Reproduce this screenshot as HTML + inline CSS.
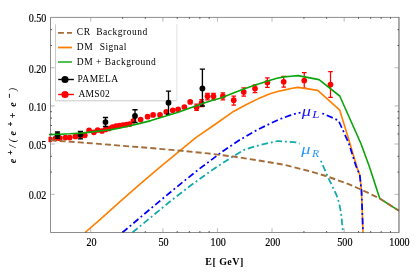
<!DOCTYPE html><html><head><meta charset="utf-8"><style>html,body{margin:0;padding:0;background:#fff}body{width:416px;height:272px;overflow:hidden}</style></head><body><svg width="416" height="272" viewBox="0 0 416 272" style="display:block;will-change:transform"><rect width="416" height="272" fill="#fff"/><defs><clipPath id="c"><rect x="48.50" y="17.40" width="350.85" height="215.50"/></clipPath></defs><path d="M55.5 24.2V100.8H176.9" fill="none" stroke="#c4c4c4" stroke-width="0.9"/><path d="M176.9 100.8V24.2" fill="none" stroke="#dedede" stroke-width="0.9"/><g fill="none" stroke-width="1.8"><path d="M58 32.8h14" stroke="#a56c38" stroke-dasharray="5.9,3.1"/><path d="M58 47.5h14" stroke="#ff7f00"/><path d="M58 62h14" stroke="#0aa50a" stroke-width="1.4"/><path d="M58.2 79.5h15.7" stroke="#000" stroke-width="1.4"/><path d="M58.2 94.5h15.7" stroke="#f00" stroke-width="1.4"/></g><circle cx="65" cy="79.5" r="3.6" fill="#000"/><circle cx="65" cy="94.5" r="3.6" fill="#f00"/><g font-family="'Liberation Serif',serif" font-size="9.5" fill="#000" letter-spacing="0.5"><text x="76.8" y="35.1" xml:space="preserve">CR  Background</text><text x="76.8" y="50.1" xml:space="preserve" word-spacing="0.4">DM  Signal</text><text x="76.8" y="64.7" xml:space="preserve">DM + Background</text><text x="77.4" y="82.4">PAMELA</text><text x="78.4" y="97.4" letter-spacing="0.3">AMS02</text></g><g clip-path="url(#c)"><g stroke="#f00" stroke-width="1.25" fill="#f00"><circle cx="49.75" cy="139.40" r="2.85" stroke="none"/><circle cx="55.40" cy="138.50" r="2.85" stroke="none"/><circle cx="59.75" cy="138.20" r="2.85" stroke="none"/><circle cx="65.40" cy="137.60" r="2.85" stroke="none"/><circle cx="69.75" cy="137.60" r="2.85" stroke="none"/><circle cx="75.40" cy="136.40" r="2.85" stroke="none"/><circle cx="80.50" cy="136.00" r="2.85" stroke="none"/><circle cx="84.80" cy="135.30" r="2.85" stroke="none"/><circle cx="89.10" cy="130.30" r="2.85" stroke="none"/><circle cx="93.90" cy="132.30" r="2.85" stroke="none"/><circle cx="97.70" cy="130.00" r="2.85" stroke="none"/><circle cx="102.00" cy="131.00" r="2.85" stroke="none"/><circle cx="105.50" cy="129.50" r="2.85" stroke="none"/><circle cx="109.00" cy="128.50" r="2.85" stroke="none"/><circle cx="112.50" cy="127.00" r="2.85" stroke="none"/><circle cx="116.00" cy="126.20" r="2.85" stroke="none"/><circle cx="119.50" cy="125.50" r="2.85" stroke="none"/><circle cx="123.00" cy="125.00" r="2.85" stroke="none"/><circle cx="126.50" cy="124.60" r="2.85" stroke="none"/><circle cx="129.50" cy="124.20" r="2.85" stroke="none"/><circle cx="133.50" cy="120.80" r="2.85" stroke="none"/><circle cx="140.60" cy="119.50" r="2.85" stroke="none"/><circle cx="147.60" cy="116.70" r="2.85" stroke="none"/><circle cx="153.10" cy="114.90" r="2.85" stroke="none"/><circle cx="160.00" cy="114.90" r="2.85" stroke="none"/><circle cx="166.25" cy="111.75" r="2.85" stroke="none"/><circle cx="172.75" cy="110.25" r="2.85" stroke="none"/><circle cx="178.10" cy="109.25" r="2.85" stroke="none"/><circle cx="184.40" cy="107.00" r="2.85" stroke="none"/><circle cx="190.20" cy="101.90" r="2.85" stroke="none"/><path d="M196.60 104.10V110.40M194.30 104.10h4.6M194.30 110.40h4.6" fill="none"/><circle cx="196.60" cy="107.25" r="2.85" stroke="none"/><path d="M201.60 99.50V106.50M199.30 99.50h4.6M199.30 106.50h4.6" fill="none"/><circle cx="201.60" cy="102.90" r="2.85" stroke="none"/><path d="M207.50 93.25V99.75M205.20 93.25h4.6M205.20 99.75h4.6" fill="none"/><circle cx="207.50" cy="96.25" r="2.85" stroke="none"/><path d="M213.50 93.25V99.75M211.20 93.25h4.6M211.20 99.75h4.6" fill="none"/><circle cx="213.50" cy="96.25" r="2.85" stroke="none"/><path d="M222.90 92.90V99.75M220.60 92.90h4.6M220.60 99.75h4.6" fill="none"/><circle cx="222.90" cy="96.00" r="2.85" stroke="none"/><path d="M233.75 96.00V105.00M231.45 96.00h4.6M231.45 105.00h4.6" fill="none"/><circle cx="233.75" cy="100.20" r="2.85" stroke="none"/><path d="M243.75 87.90V96.00M241.45 87.90h4.6M241.45 96.00h4.6" fill="none"/><circle cx="243.75" cy="92.00" r="2.85" stroke="none"/><path d="M255.00 84.75V92.60M252.70 84.75h4.6M252.70 92.60h4.6" fill="none"/><circle cx="255.00" cy="88.50" r="2.85" stroke="none"/><path d="M267.40 77.90V87.25M265.10 77.90h4.6M265.10 87.25h4.6" fill="none"/><circle cx="267.40" cy="82.50" r="2.85" stroke="none"/><path d="M283.70 76.40V87.00M281.40 76.40h4.6M281.40 87.00h4.6" fill="none"/><circle cx="283.70" cy="81.80" r="2.85" stroke="none"/><path d="M304.25 72.50V88.10M301.95 72.50h4.6M301.95 88.10h4.6" fill="none"/><circle cx="304.25" cy="80.60" r="2.85" stroke="none"/><path d="M330.50 71.50V97.25M328.20 71.50h4.6M328.20 97.25h4.6" fill="none"/><circle cx="330.50" cy="84.60" r="2.85" stroke="none"/></g><g stroke="#000" stroke-width="1.35" fill="#000"><path d="M57.50 132.00V138.25M54.90 132.00h5.2M54.90 138.25h5.2" fill="none"/><circle cx="57.50" cy="135.10" r="2.9" stroke="none"/><path d="M80.40 131.40V138.90M77.80 131.40h5.2M77.80 138.90h5.2" fill="none"/><circle cx="80.40" cy="134.50" r="2.9" stroke="none"/><path d="M105.50 117.50V126.50M102.90 117.50h5.2M102.90 126.50h5.2" fill="none"/><circle cx="105.50" cy="122.10" r="2.9" stroke="none"/><path d="M135.00 109.70V122.50M132.40 109.70h5.2M132.40 122.50h5.2" fill="none"/><circle cx="135.00" cy="116.00" r="2.9" stroke="none"/><path d="M168.50 91.10V114.25M165.90 91.10h5.2M165.90 114.25h5.2" fill="none"/><circle cx="168.50" cy="102.75" r="2.9" stroke="none"/><path d="M202.40 69.10V106.00M199.80 69.10h5.2M199.80 106.00h5.2" fill="none"/><circle cx="202.40" cy="88.50" r="2.9" stroke="none"/></g><g fill="none" stroke-width="1.6" stroke-linejoin="round"><polyline points="85.00,232.50 100.00,219.70 120.00,201.66 140.00,184.11 160.00,167.07 180.00,150.52 196.50,137.14 213.50,125.50 233.50,111.45 246.00,104.74 258.50,98.60 270.00,93.80 278.50,91.19 284.00,90.11 291.00,88.46 298.00,87.41 317.75,90.40 339.75,110.20 348.00,137.00 357.25,168.00 359.75,174.75 361.50,191.00 363.00,232.50" stroke="#ff7f00"/><polyline points="122.50,232.50 140.00,217.64 160.00,200.82 180.00,184.31 200.00,168.36 208.00,162.37 222.00,151.90 238.00,140.94 250.00,133.97 258.00,129.48 270.00,123.68 280.00,119.03 290.00,115.39 298.00,113.00 310.00,111.80 323.50,113.75 338.50,120.50 348.50,142.50 356.00,166.00 359.75,174.75 361.50,191.00 363.00,232.50" stroke="#0000ff" stroke-width="1.75" stroke-dasharray="6.6,2.9,1.9,2.9"/><polyline points="132.50,232.50 150.00,218.00 170.00,201.50 190.00,186.00 208.00,173.00 222.00,163.50 232.00,157.00 238.00,153.60 244.00,150.00 256.00,146.00 277.60,141.00 298.00,142.60 319.00,156.50 328.50,178.30 336.50,195.00 339.30,203.50 341.20,214.00 343.00,232.50" stroke="#10aaaa" stroke-width="1.75" stroke-dasharray="6.6,2.9,1.9,2.9"/><polyline points="49.00,134.60 60.00,134.20 70.00,133.80 81.00,133.10 92.00,131.90 104.00,130.50 111.00,129.60 119.00,128.30 129.00,126.00 140.00,123.40 151.00,120.60 160.00,117.80 170.00,114.80 179.00,112.00 190.00,108.00 196.00,106.00 204.00,102.96 212.00,100.48 221.00,97.90 234.00,92.80 246.00,88.20 256.00,84.70 264.00,82.14 271.00,80.06 277.00,78.32 284.00,76.90 291.00,76.20 298.00,75.60 319.00,79.60 339.75,96.00 361.00,143.75 369.50,167.00 379.75,198.50 399.00,210.80" stroke="#0aa50a"/><polyline points="50.50,140.30 80.00,142.40 110.00,144.80 150.00,148.00 180.00,150.67 208.00,153.40 235.00,156.80 258.00,160.33 285.00,164.91 308.00,170.77 326.00,176.00 348.00,183.80 358.50,188.50 370.00,193.80 379.75,198.50 399.00,210.80" stroke="#a56c38" stroke-width="1.9" stroke-dasharray="6,3.1"/></g></g><rect x="300.5" y="104" width="21" height="16" fill="#fff"/><rect x="299.5" y="143" width="22.5" height="17" fill="#fff"/><g font-family="'Liberation Serif',serif" font-style="italic"><g fill="#1414ff"><text transform="translate(301.8,115.6) scale(1.21,1)" font-size="15.2">μ</text><text transform="translate(312.3,118.3) scale(1.3,1)" font-size="10">L</text></g><g fill="#2896ff"><text transform="translate(301.2,154.3) scale(1.21,1)" font-size="15.2">μ</text><text transform="translate(311.9,157.1) scale(1.12,1)" font-size="10.5">R</text></g></g><g stroke="#5c5c5c" stroke-width="0.7" fill="none"><path d="M398.95 17.40H50.50V232.50H398.95"/><path d="M398.97 17.10V232.80" stroke-width="0.95" stroke="#505050"/><path d="M90.72 232.50v-4.2M90.72 17.40v4.2M162.87 232.50v-4.2M162.87 17.40v4.2M217.45 232.50v-4.2M217.45 17.40v4.2M272.02 232.50v-4.2M272.02 17.40v4.2M344.17 232.50v-4.2M344.17 17.40v4.2M50.50 194.39h4.2M398.75 194.39h-4.2M50.50 144.01h4.2M398.75 144.01h-4.2M50.50 105.89h4.2M398.75 105.89h-4.2M50.50 67.78h4.2M398.75 67.78h-4.2" stroke="#888" stroke-width="0.6"/><path d="M122.65 232.50v-1.4M122.65 17.40v1.4M145.30 232.50v-1.4M145.30 17.40v1.4M177.23 232.50v-1.4M177.23 17.40v1.4M189.36 232.50v-1.4M189.36 17.40v1.4M199.88 232.50v-1.4M199.88 17.40v1.4M209.15 232.50v-1.4M209.15 17.40v1.4M303.95 232.50v-1.4M303.95 17.40v1.4M326.60 232.50v-1.4M326.60 17.40v1.4M358.53 232.50v-1.4M358.53 17.40v1.4M370.67 232.50v-1.4M370.67 17.40v1.4M381.18 232.50v-1.4M381.18 17.40v1.4M390.45 232.50v-1.4M390.45 17.40v1.4M50.50 172.09h1.4M398.95 172.09h-1.4M50.50 156.28h1.4M398.95 156.28h-1.4M50.50 133.98h1.4M398.95 133.98h-1.4M50.50 125.51h1.4M398.95 125.51h-1.4M50.50 118.16h1.4M398.95 118.16h-1.4M50.50 111.69h1.4M398.95 111.69h-1.4M50.50 45.49h1.4M398.95 45.49h-1.4M50.50 29.67h1.4M398.95 29.67h-1.4" stroke="#333" stroke-width="0.9"/></g><g font-family="'Liberation Serif',serif" font-size="10.1" fill="#000" stroke="#000" stroke-width="0.15"><text transform="translate(46.3,22.30) scale(1,1.17)" text-anchor="end">0.50</text><text transform="translate(46.3,72.68) scale(1,1.17)" text-anchor="end">0.20</text><text transform="translate(46.3,110.79) scale(1,1.17)" text-anchor="end">0.10</text><text transform="translate(46.3,148.91) scale(1,1.17)" text-anchor="end">0.05</text><text transform="translate(46.3,199.29) scale(1,1.17)" text-anchor="end">0.02</text><text transform="translate(91.42,246.3) scale(1,1.17)" text-anchor="middle">20</text><text transform="translate(163.57,246.3) scale(1,1.17)" text-anchor="middle">50</text><text transform="translate(218.15,246.3) scale(1,1.17)" text-anchor="middle">100</text><text transform="translate(272.72,246.3) scale(1,1.17)" text-anchor="middle">200</text><text transform="translate(344.87,246.3) scale(1,1.17)" text-anchor="middle">500</text><text transform="translate(399.45,246.3) scale(1,1.17)" text-anchor="middle">1000</text></g><text x="224.5" y="265.4" text-anchor="middle" font-family="'Liberation Serif',serif" font-weight="bold" font-size="10" letter-spacing="0.45" xml:space="preserve">E[ GeV]</text><g font-family="'Liberation Serif',serif" font-weight="bold" font-style="italic" font-size="10" fill="#000" transform="translate(16.2,0) rotate(-90)"><text x="-161.10" y="0.00" text-anchor="middle" >e</text><text x="-152.60" y="-3.60" text-anchor="middle" font-size="7.5" stroke="#000" stroke-width="0.3">+</text><text x="-146.40" y="0.00" text-anchor="middle" >/</text><text x="-140.60" y="0.00" text-anchor="middle" font-weight="normal">(</text><text x="-133.20" y="0.00" text-anchor="middle" >e</text><text x="-124.20" y="-3.60" text-anchor="middle" font-size="7.5" stroke="#000" stroke-width="0.3">+</text><text x="-115.40" y="0.00" text-anchor="middle" >+</text><text x="-104.40" y="0.00" text-anchor="middle" >e</text><text x="-96.00" y="-4.40" text-anchor="middle" font-size="8" stroke="#000" stroke-width="0.3">−</text><text x="-89.70" y="0.00" text-anchor="middle" font-weight="normal">)</text></g></svg></body></html>
